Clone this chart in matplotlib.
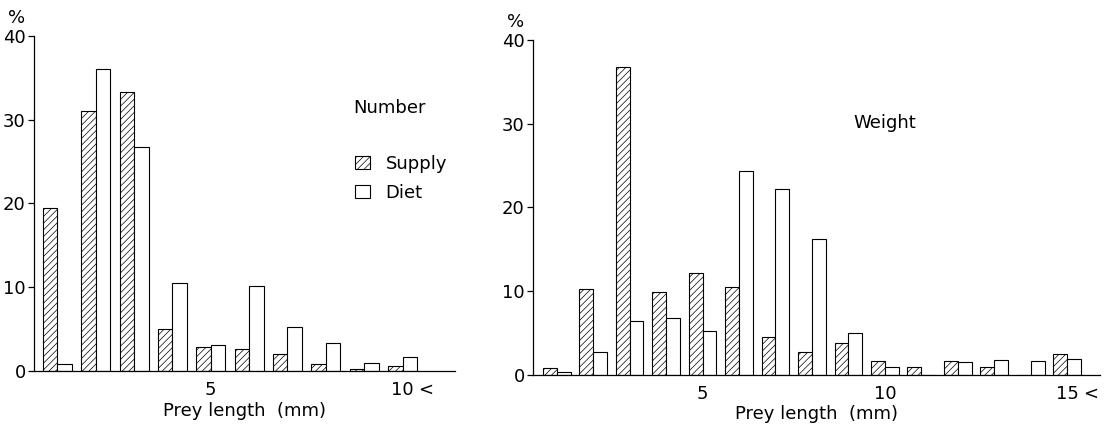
import matplotlib
matplotlib.use("Agg")
import matplotlib.pyplot as plt
import numpy as np

# Percentage of prey in each length class (mm)
number_supply = [19.5, 31.0, 33.3, 5.0, 2.9, 2.6, 2.0, 0.8, 0.25, 0.6]
number_diet = [0.8, 36.0, 26.8, 10.5, 3.1, 10.2, 5.3, 3.3, 1.0, 1.7]

weight_supply = [0.8, 10.3, 36.8, 9.9, 12.2, 10.5, 4.5, 2.7, 3.8, 1.7, 0.9, 1.7, 1.0, 0.0, 2.5]
weight_diet = [0.4, 2.7, 6.4, 6.8, 5.3, 24.4, 22.2, 16.2, 5.0, 1.0, 0.0, 1.6, 1.8, 1.7, 1.9]

number_ticks = [5, 10]
number_ticklabels = ["5", "10"]
weight_ticks = [5, 10, 15]
weight_ticklabels = ["5", "10", "15"]
y_ticks = [0, 10, 20, 30, 40]

plt.rcParams["font.family"] = ["DejaVu Sans"]
plt.rcParams["hatch.linewidth"] = 0.5
FS = 13

fig = plt.figure(figsize=(11.12, 4.24), dpi=100)
ax1 = fig.add_axes([0.0306, 0.125, 0.3786, 0.7901])
ax2 = fig.add_axes([0.4793, 0.1156, 0.5099, 0.7901])

W = 0.38


def draw(ax, supply, diet, ticks, ticklabels, xlim, open_label):
    x = np.arange(1, len(supply) + 1)
    b1 = ax.bar(x - W / 2, supply, width=W, facecolor="white", edgecolor="black",
                linewidth=0.8, hatch="/////", label="Supply")
    b2 = ax.bar(x + W / 2, diet, width=W, facecolor="white", edgecolor="black",
                linewidth=0.8, label="Diet")
    ax.set_xlim(*xlim)
    ax.set_ylim(0, 40)
    ax.set_yticks(y_ticks)
    ax.set_xticks(ticks)
    ax.set_xticklabels(ticklabels)
    for s in ("top", "right"):
        ax.spines[s].set_visible(False)
    for s in ("left", "bottom"):
        ax.spines[s].set_linewidth(0.9)
    ax.tick_params(axis="y", direction="out", length=4.5, width=0.9, pad=1.5, labelsize=FS)
    ax.tick_params(axis="x", length=0, pad=7, labelsize=FS)
    ax.set_xlabel("Prey length  (mm)", fontsize=FS, labelpad=2)
    # open-ended last length class
    ax.annotate("<", xy=(open_label, 0), xycoords=("data", "axes fraction"),
                xytext=(23, -10), textcoords="offset pixels",
                ha="center", va="top", fontsize=FS)
    ax.annotate("%", xy=(0, 1), xycoords="axes fraction", xytext=(-17, 18),
                textcoords="offset pixels", ha="center", va="center", fontsize=FS)
    return b1, b2


b1, b2 = draw(ax1, number_supply, number_diet, number_ticks, number_ticklabels,
              (0.39, 11.37), 10)
draw(ax2, weight_supply, weight_diet, weight_ticks, weight_ticklabels,
     (0.35, 15.9), 15)

ax1.text(353 / 1112, 1 - 108 / 424, "Number", transform=fig.transFigure,
         ha="left", va="center", fontsize=FS)
ax2.text(853 / 1112, 1 - 123 / 424, "Weight", transform=fig.transFigure,
         ha="left", va="center", fontsize=FS)

ax1.legend(handles=[b1, b2], labels=["Supply", "Diet"], frameon=False,
           loc="upper left", bbox_to_anchor=(355 / 1112, 1 - 155 / 424),
           bbox_transform=fig.transFigure, fontsize=FS, handlelength=0.85,
           handleheight=0.75, handletextpad=0.85, labelspacing=0.6, borderpad=0,
           borderaxespad=0)

fig.savefig("out.png", dpi=100)
